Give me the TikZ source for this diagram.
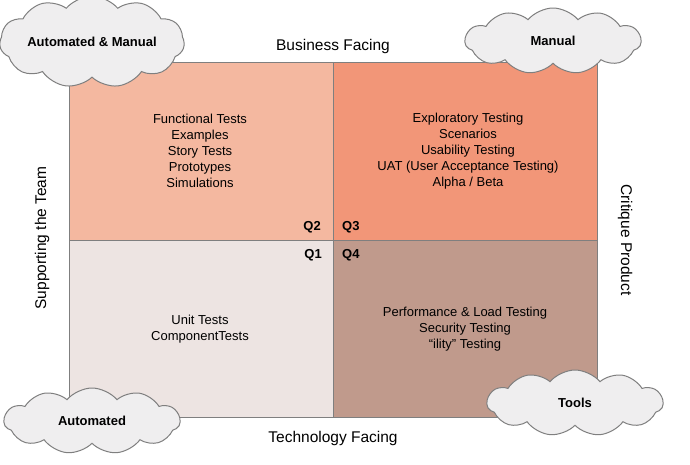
\documentclass[tikz,border=0pt]{standalone}
\usepackage{fontspec}
\setmainfont{Liberation Sans}
\usepackage{tikz}
\usetikzlibrary{shapes.symbols}
\definecolor{qone}{HTML}{EDE4E2}
\definecolor{qtwo}{HTML}{F4B8A0}
\definecolor{qthree}{HTML}{F29678}
\definecolor{qfour}{HTML}{C09A8C}
\definecolor{cloudfill}{HTML}{EFEEEF}
\definecolor{edgegray}{HTML}{7F7F7F}
\newcommand{\fillquadrant}[3]{
  \fill[#3] #1 rectangle #2;
}

\begin{document}
\begin{tikzpicture}[x=1pt, y=-1pt,
    facing/.style={font=\fontsize{15.5}{18}\selectfont, inner sep=0pt},
    list/.style={align=center, font=\fontsize{13}{16}\selectfont},
    tag/.style={font=\bfseries\fontsize{13}{15}\selectfont, inner sep=0pt},
    bubble/.style={cloud, cloud puffs=11, cloud puff arc=100, aspect=2.6,
      draw=edgegray, line width=1pt, fill=cloudfill, inner sep=0pt,
      minimum width=176pt, minimum height=66pt,
      font=\bfseries\fontsize{13}{15}\selectfont}
  ]
  \useasboundingbox (0,0) rectangle (690,464);

  % Corners and centre of the grid
  \coordinate (NW) at (69,62);
  \coordinate (SE) at (597,417);
  \coordinate (C) at (333,240);

  % The four quadrants
  \fillquadrant{(NW)}{(C)}{qtwo}
  \fillquadrant{(C |- NW)}{(SE |- C)}{qthree}
  \fillquadrant{(NW |- C)}{(C |- SE)}{qone}
  \fillquadrant{(C)}{(SE)}{qfour}
  \draw[edgegray] (NW) rectangle (SE);
  \draw[edgegray] (C |- NW) -- (C |- SE);
  \draw[edgegray] (NW |- C) -- (SE |- C);

  % Contents of each quadrant
  \node[list] (q2list) at (200,151) {Functional Tests\\Examples\\Story Tests\\Prototypes\\Simulations};
  \node[list] (q3list) at (468,151) {Exploratory Testing\\Scenarios\\Usability Testing\\UAT (User Acceptance Testing)\\Alpha / Beta};
  \node[list] (q1list) at (200,329) {Unit Tests\\ComponentTests};
  \node[list] (q4list) at (465,329) {Performance \& Load Testing\\Security Testing\\“ility” Testing};

  % Quadrant numbers round the centre
  \node[tag, anchor=base east] (q2) at (321,230) {Q2};
  \node[tag, anchor=base west] (q3) at (342,230) {Q3};
  \node[tag, anchor=base east] (q1) at (322,258) {Q1};
  \node[tag, anchor=base west] (q4) at (342,258) {Q4};

  % The axes
  \node[facing] (business) at (333,46) {Business Facing};
  \node[facing] (technology) at (333,438) {Technology Facing};
  \node[facing, rotate=90] (team) at (42,238) {Supporting the Team};
  \node[facing, rotate=-90] (critique) at (625,240) {Critique Product};

  % Clouds in the corners
  \node[bubble] (both) at (92,42) {Automated \& Manual};
  \node[bubble] (manual) at (553,41) {Manual};
  \node[bubble] (automated) at (92,421) {Automated};
  \node[bubble] (tools) at (575,403) {Tools};
\end{tikzpicture}
\end{document}
